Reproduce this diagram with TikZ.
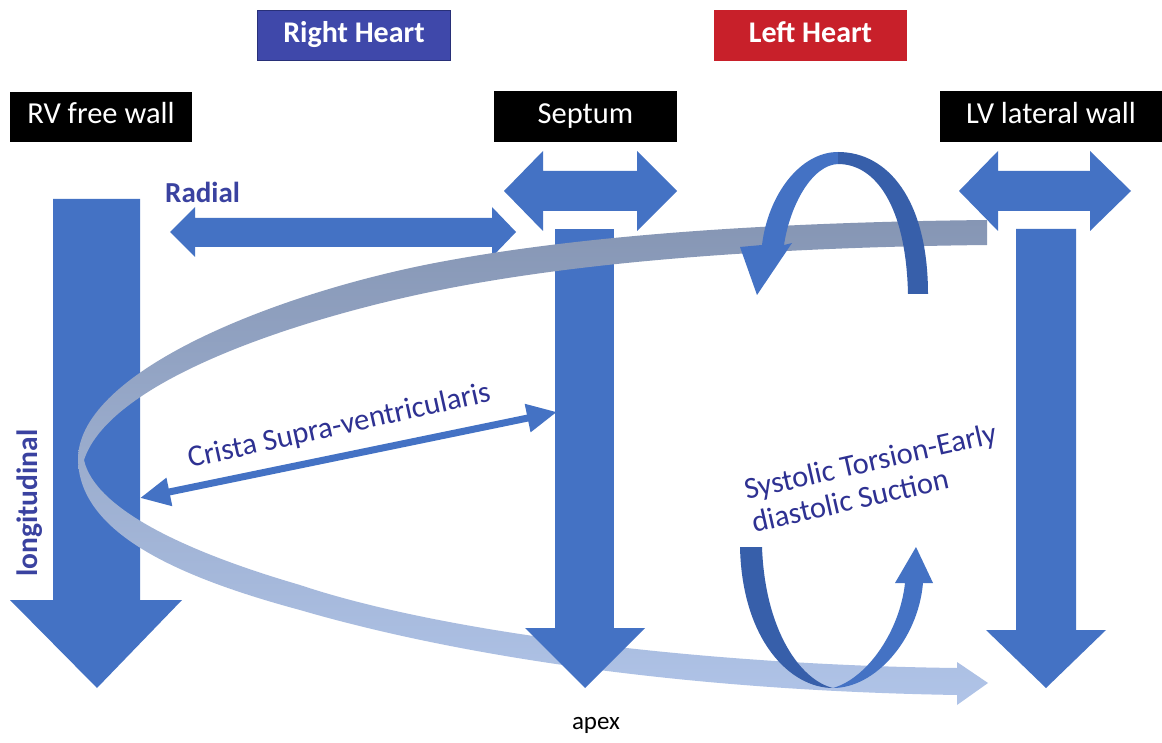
\documentclass[tikz,border=0pt]{standalone}
\usepackage{fontspec}
\setmainfont{Carlito}
\usetikzlibrary{arrows.meta}
\definecolor{mblue}{RGB}{68,114,196}
\definecolor{dblue}{RGB}{55,95,170}
\definecolor{navy}{RGB}{46,49,146}
\definecolor{lblue}{RGB}{58,66,160}
\definecolor{rhblue}{RGB}{63,72,170}
\definecolor{rhborder}{RGB}{40,48,120}
\definecolor{lhred}{RGB}{200,32,42}
\definecolor{bandtop}{RGB}{134,150,180}
\definecolor{bandbot}{RGB}{176,196,232}
\begin{document}
\begin{tikzpicture}[x=1pt,y=-1pt,
  hbox/.style={inner sep=0pt, text height=20pt, text depth=6pt,
    font=\fontsize{30.5}{34}\selectfont},
  blk/.style={fill=mblue},
  lab/.style={inner sep=0pt, font=\fontsize{30.5}{34}\selectfont}]
\useasboundingbox[fill=white] (0,0) rectangle (1162,743);

% header boxes
\node[hbox, fill=rhblue, draw=rhborder, line width=1pt, text=white,
  minimum width=193pt, minimum height=50pt, font=\fontsize{30}{34}\selectfont\bfseries] (rh) at (354,35.5) {Right Heart};
\node[hbox, fill=lhred, text=white,
  minimum width=193pt, minimum height=51pt, font=\fontsize{30}{34}\selectfont\bfseries] (lh) at (810.5,35.5) {Left Heart};
\node[hbox, fill=black, text=white,
  minimum width=182pt, minimum height=50pt] (rv) at (101,117) {RV free wall};
\node[hbox, fill=black, text=white,
  minimum width=183pt, minimum height=51pt] (sep) at (585.5,116.5) {Septum};
\node[hbox, fill=black, text=white,
  minimum width=222pt, minimum height=51pt] (lv) at (1051,116.5) {LV lateral wall};

% longitudinal block arrows
\fill[blk] (53,199) -- (140,199) -- (140,600) -- (182,600) -- (97,688)
  -- (10,600) -- (53,600) -- cycle;
\fill[blk] (555,229) rectangle (614,629);
\fill[blk] (1016,229) -- (1076,229) -- (1076,630) -- (1106,630) -- (1046,688)
  -- (986,630) -- (1016,630) -- cycle;

% radial double arrows
\fill[blk] (504,191) -- (543,151) -- (543,171) -- (637,171) -- (637,151) -- (677,191)
  -- (637,231) -- (637,211) -- (543,211) -- (543,231) -- cycle;
\fill[blk] (959,191) -- (998,151) -- (998,171) -- (1090,171) -- (1090,151) -- (1131,191)
  -- (1090,231) -- (1090,211) -- (998,211) -- (998,231) -- cycle;
\fill[blk] (170,232) -- (195,207) -- (195,218) -- (492,218) -- (492,207) -- (516,232)
  -- (492,257) -- (492,247) -- (195,247) -- (195,257) -- cycle;

% spiral band
\shade[top color=bandtop, bottom color=bandbot]
  (987,220) .. controls (800,222) and (600,232) .. (440,262)
  .. controls (280,292) and (80,370) .. (78,458)
  .. controls (78,530) and (170,575) .. (300,610)
  .. controls (430,648) and (650,690) .. (957,695)
  -- (957,705) -- (988,683) -- (957,662) -- (957,668)
  .. controls (700,665) and (440,632) .. (300,585)
  .. controls (190,553) and (95,510) .. (84,460)
  .. controls (110,380) and (300,318) .. (440,290)
  .. controls (600,258) and (800,247) .. (987,245) -- cycle;

% septum arrow head (over band)
\fill[blk] (525,628) -- (645,628) -- (585,688) -- cycle;

% upper torsion arrow
\fill[mblue] (838,152) .. controls (800,152) and (768,195) .. (762,245)
  -- (740,247) -- (757,295) -- (792,243) -- (784,245)
  .. controls (790,205) and (812,165) .. (838,164) -- cycle;
\fill[dblue] (838,152) .. controls (888,152) and (928,200) .. (928,294)
  -- (908,294) .. controls (906,205) and (875,164) .. (838,164) -- cycle;

% lower torsion arrow
\fill[dblue] (740,547) .. controls (742,640) and (790,688) .. (833,688)
  .. controls (800,680) and (765,630) .. (762,547) -- cycle;
\fill[mblue] (833,688) .. controls (875,688) and (918,640) .. (923,583)
  -- (933,583) -- (916,547) -- (895,583) -- (905,583)
  .. controls (900,630) and (868,678) .. (833,688) -- cycle;

% crista supra-ventricularis arrow
\coordinate (cl) at (140,498);
\coordinate (cr) at (557,412);
\draw[mblue, line width=7pt,
  {Triangle[length=30pt,width=27pt]}-{Triangle[length=30pt,width=27pt]}] (cl) -- (cr);

% labels
\node[lab, text=lblue, anchor=base west, font=\fontsize{29}{34}\selectfont\bfseries] (radial) at (165,203) {Radial};
\node[lab, text=lblue, anchor=base, rotate=90, font=\fontsize{29.5}{34}\selectfont\bfseries] (longi) at (37,503) {longitudinal};
\node[lab, text=navy, anchor=base west, rotate=12.5] (crista) at (190,468) {Crista Supra-ventricularis};
\node[lab, text=navy, anchor=west, rotate=12.8, align=left] (tors) at (748,506) {Systolic Torsion-Early\\diastolic Suction};
\node[inner sep=0pt, font=\fontsize{25}{30}\selectfont, anchor=base] (apex) at (596,729) {apex};
\end{tikzpicture}
\end{document}
